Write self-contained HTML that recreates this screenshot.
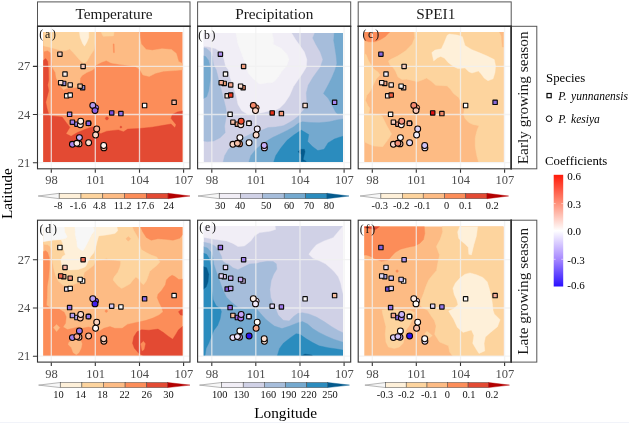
<!DOCTYPE html>
<html><head><meta charset="utf-8"><title>Figure</title><style>
html,body{margin:0;padding:0;background:#fff;}
body{width:629px;height:423px;overflow:hidden;}
svg{display:block;will-change:transform;}
text{font-family:"Liberation Serif",serif;fill:#1a1a1a;}
.st{font-size:15.3px;}
.rs{font-size:15.35px;}
.at{font-size:15.3px;fill:#000;}
.tk{font-size:12.5px;fill:#4d4d4d;}
.pl{font-size:11.8px;letter-spacing:1.8px;fill:#111;}
.cl{font-size:10.4px;fill:#111;}
.lt{font-size:12.8px;fill:#000;}
.li{font-size:11.5px;font-style:italic;fill:#000;word-spacing:1.6px;}
.ll{font-size:11px;fill:#000;}
</style></head><body>
<svg width="629" height="423" viewBox="0 0 629 423">
<rect width="629" height="423" fill="#fff"/>
<rect x="0" y="422" width="629" height="1" fill="#f1f3f9"/>
<defs>
<clipPath id="cp00"><rect x="43.3" y="32" width="139.2" height="130"/></clipPath>
<clipPath id="cp01"><rect x="203.8" y="33" width="139.2" height="129"/></clipPath>
<clipPath id="cp02"><rect x="364.3" y="32" width="139.2" height="130"/></clipPath>
<clipPath id="cp10"><rect x="43.3" y="227" width="139.2" height="129"/></clipPath>
<clipPath id="cp11"><rect x="203.8" y="226" width="139.2" height="130"/></clipPath>
<clipPath id="cp12"><rect x="364.3" y="226.4" width="139.2" height="129.6"/></clipPath>
<linearGradient id="cg" x1="0" y1="0" x2="0" y2="1"><stop offset="0" stop-color="#ff1a0a"/><stop offset="0.25" stop-color="#ff8f78"/><stop offset="0.5" stop-color="#ffffff"/><stop offset="0.75" stop-color="#a98bff"/><stop offset="1" stop-color="#2a10ff"/></linearGradient>
</defs>
<g clip-path="url(#cp00)">
<rect x="42.3" y="30.8" width="141.2" height="132.2" fill="#fc8d59"/>
<path d="M43,31L138.1,31L139.7,36L141.3,43.9L146.1,49.5L152.4,50.3L162,48.7L171.5,49.5L176.3,53.4L178.6,61.4L184,64.2L184,69.7L174.7,70.6L163.5,71.2L155.6,73.3L149.2,76.5L142.9,74.9L139.7,69.3L134.9,66.2L120.6,64.6L111.1,63L106.3,60.6L101.5,62.2L95.4,65.4L95,67.7L92.6,70.1L86.8,72.5L82.1,75.4L80.2,78.2L79.7,84.4L77.3,87.3L73.5,87.8L66.8,88.2L63.5,89.7L61.1,86.8L58.7,82.5L56.3,78.2L55.4,72.5L52.5,67.7L52,62L51,53L47.7,50.6L43,51.5Z" fill="#fdbb84" stroke="#fdbb84" stroke-width="0.4"/>
<path d="M43,31L95,31L95,43.4L94,50L90.7,54.8L86.8,61.5L84,63.4L80.2,60.5L73.5,52.9L69.7,49.1L65.9,50.5L61.1,50.5L51.5,47.7L43,45.7Z" fill="#fdd49e" stroke="#fdd49e" stroke-width="0.4"/>
<path d="M100.7,31.2L114.3,31.2L113.5,35.9L103.1,36.3Z" fill="#fdd49e" stroke="#fdd49e" stroke-width="0.4"/>
<path d="M79.2,31L88.8,31L88.8,37.6L86.8,42.4L84.5,46.2L82.6,43.4L80.2,37.6Z" fill="#fef0d9" stroke="#fef0d9" stroke-width="0.4"/>
<path d="M113.1,43.9L114.1,43.9L114.4,52.6L113.5,52.6Z" fill="#fc8d59" stroke="#fc8d59" stroke-width="0.4"/>
<path d="M43,60.5L45.8,58.6L47.7,61.5L48.5,70L48.7,80L47.7,85L48.7,90.7L45.8,102.2L47.2,108.9L49.2,115.5L52,115.9L62.2,117.1L66,122.2L69.9,127.3L66,133.7L71.1,136.3L77.5,132.4L85.2,129.3L92.8,126.7L95.4,128L100.5,133.7L106.9,131.2L118.3,129.9L123.5,131.8L127.7,129.1L139.1,128.5L151.9,127.2L163.4,125.3L171,124L174.9,127.8L176.1,124.7L171,118.3L172.3,114.5L177.4,111.9L184,110.6L184,164L43,164Z" fill="#e34a33" stroke="#e34a33" stroke-width="0.4"/>
<path d="M108.5,118.4L108,119.5L106.9,120L105.8,119.5L105.3,118.4L105.8,117.3L106.9,116.8L108,117.3Z" fill="#e34a33" stroke="#e34a33" stroke-width="0.4"/>
<path d="M121.9,127.1L121.6,127.8L120.9,128.1L120.2,127.8L119.9,127.1L120.2,126.4L120.9,126.1L121.6,126.4Z" fill="#e34a33" stroke="#e34a33" stroke-width="0.4"/>
</g>
<path d="M51.3,26.8V168.3M95.3,26.8V168.3M139.5,26.8V168.3M183.6,26.8V168.3M38,66.4H189.5M38,114.5H189.5M38,162.7H189.5" stroke="#f0f0f0" stroke-width="1.3" fill="none" opacity="0.8"/>
<rect x="57.7" y="52" width="4.4" height="4.4" rx="0.3" fill="#f9cdbd" stroke="#0a0a0a" stroke-width="1.12"/>
<rect x="80.9" y="64.2" width="4.4" height="4.4" rx="0.3" fill="#f9cdbd" stroke="#0a0a0a" stroke-width="1.12"/>
<rect x="62.8" y="71.9" width="4.4" height="4.4" rx="0.3" fill="#fbeee8" stroke="#0a0a0a" stroke-width="1.12"/>
<rect x="61.5" y="81.2" width="4.4" height="4.4" rx="0.3" fill="#9a8fd8" stroke="#0a0a0a" stroke-width="1.12"/>
<rect x="58.5" y="80.5" width="4.4" height="4.4" rx="0.3" fill="#fbdcd0" stroke="#0a0a0a" stroke-width="1.12"/>
<rect x="68" y="82.7" width="4.4" height="4.4" rx="0.3" fill="#fbe2d4" stroke="#0a0a0a" stroke-width="1.12"/>
<rect x="80.4" y="85.5" width="4.4" height="4.4" rx="0.3" fill="#8a86d8" stroke="#0a0a0a" stroke-width="1.12"/>
<rect x="77.9" y="84" width="4.4" height="4.4" rx="0.3" fill="#f3c4a6" stroke="#0a0a0a" stroke-width="1.12"/>
<rect x="64.5" y="93.6" width="4.4" height="4.4" rx="0.3" fill="#fdf6f2" stroke="#0a0a0a" stroke-width="1.12"/>
<rect x="68" y="92.9" width="4.4" height="4.4" rx="0.3" fill="#fefaf8" stroke="#0a0a0a" stroke-width="1.12"/>
<rect x="67.4" y="112.1" width="4.4" height="4.4" rx="0.3" fill="#a98fec" stroke="#0a0a0a" stroke-width="1.12"/>
<rect x="109.5" y="110.7" width="4.4" height="4.4" rx="0.3" fill="#7a50e0" stroke="#0a0a0a" stroke-width="1.12"/>
<rect x="118.7" y="111.4" width="4.4" height="4.4" rx="0.3" fill="#9070e6" stroke="#0a0a0a" stroke-width="1.12"/>
<rect x="70.2" y="120" width="4.4" height="4.4" rx="0.3" fill="#a080ee" stroke="#0a0a0a" stroke-width="1.12"/>
<rect x="74.7" y="122" width="4.4" height="4.4" rx="0.3" fill="#a488ee" stroke="#0a0a0a" stroke-width="1.12"/>
<circle cx="88.6" cy="123.3" r="3.0" fill="#151515"/>
<rect x="86.2" y="121.1" width="4.4" height="4.4" rx="0.3" fill="#8a64e6" stroke="#0a0a0a" stroke-width="1.12"/>
<rect x="142.4" y="103.3" width="4.4" height="4.4" rx="0.3" fill="#fefaf8" stroke="#0a0a0a" stroke-width="1.12"/>
<rect x="171.9" y="100.1" width="4.4" height="4.4" rx="0.3" fill="#f8b8a0" stroke="#0a0a0a" stroke-width="1.12"/>
<circle cx="95.7" cy="107.8" r="2.95" fill="#9a78ec" stroke="#140800" stroke-width="0.95"/>
<circle cx="92.8" cy="105.4" r="2.95" fill="#b49cf0" stroke="#0c0400" stroke-width="1.05"/>
<circle cx="95" cy="110.6" r="2.95" fill="#8a60e8" stroke="#0c0400" stroke-width="1.05"/>
<circle cx="80.3" cy="124.8" r="2.95" fill="#fbe6da" stroke="#0c0400" stroke-width="1.05"/>
<circle cx="80.7" cy="121.2" r="2.95" fill="#fdf0e8" stroke="#0c0400" stroke-width="1.05"/>
<circle cx="96.7" cy="129" r="2.95" fill="#f8b8a0" stroke="#0c0400" stroke-width="1.05"/>
<circle cx="95.6" cy="135" r="2.95" fill="#fcd8c8" stroke="#0c0400" stroke-width="1.05"/>
<circle cx="79.4" cy="137.6" r="2.95" fill="#c4b4f8" stroke="#0c0400" stroke-width="1.05"/>
<circle cx="72.4" cy="144.3" r="2.95" fill="#a888f0" stroke="#0c0400" stroke-width="1.05"/>
<circle cx="79" cy="143.9" r="2.95" fill="#f9d2c0" stroke="#0c0400" stroke-width="1.05"/>
<circle cx="76.9" cy="143.3" r="2.95" fill="#fdeee6" stroke="#0c0400" stroke-width="1.05"/>
<circle cx="88.6" cy="142.7" r="2.95" fill="#fde0d4" stroke="#0c0400" stroke-width="1.05"/>
<circle cx="103.9" cy="147.9" r="2.95" fill="#f6b49c" stroke="#0c0400" stroke-width="1.05"/>
<circle cx="103.7" cy="145.5" r="2.95" fill="#fef4f0" stroke="#0c0400" stroke-width="1.05"/>
<rect x="37.5" y="26.3" width="152.5" height="142.5" fill="none" stroke="#333" stroke-width="1.1"/>
<text x="39.2" y="37.5" class="pl">(a)</text>
<path d="M51.3,169.2v3.6M95.3,169.2v3.6M139.5,169.2v3.6M183.6,169.2v3.6M37.1,66.4h-4.2M37.1,114.5h-4.2M37.1,162.7h-4.2" stroke="#333" stroke-width="1.1" fill="none"/>
<text x="51.5" y="184.1" class="tk" text-anchor="middle">98</text>
<text x="95.5" y="184.1" class="tk" text-anchor="middle">101</text>
<text x="139.7" y="184.1" class="tk" text-anchor="middle">104</text>
<text x="183.8" y="184.1" class="tk" text-anchor="middle">107</text>
<text x="30.3" y="70.4" class="tk" text-anchor="end">27</text>
<text x="30.3" y="118.5" class="tk" text-anchor="end">24</text>
<text x="30.3" y="166.7" class="tk" text-anchor="end">21</text>
<g clip-path="url(#cp01)">
<rect x="202.8" y="30.8" width="141.2" height="132.2" fill="#d0d1e6"/>
<path d="M203,32L203,46.1L209.5,47.1L215.3,48.5L221.9,52.8L224.3,60.4L225.5,66L228.4,70L229.7,76.4L232.9,85.3L236.1,95.5L238,104.4L241.8,110.8L248.2,114.7L254.6,114L262.2,112.7L269.9,110.8L274.4,110.8L279.5,108.3L284.6,103.2L289.7,95.5L293.5,86.6L298,80L302.4,73.7L306.3,67.3L306.9,59.6L304.4,52L299.9,45.6L295.4,39.2L291,32Z" fill="#f1eef6" stroke="#f1eef6" stroke-width="0.4"/>
<path d="M235.8,32L237.8,43.3L241.6,53.5L245.4,63.7L248.2,73L254.6,80.2L259.7,84L267.3,82.8L271.8,82.8L275.7,80.2L279.5,75.1L282,71.1L286.5,66L289.1,59.6L287.1,54.5L280.8,48.1L273.1,44.3L273.7,40.5L271.8,32Z" fill="#f7f7f7" stroke="#f7f7f7" stroke-width="0.4"/>
<path d="M203,47.6L206.7,48.5L210.5,51.9L212.4,56.6L213.4,64.3L216.3,70L218.2,77.7L220.1,85.3L222.1,93L224,100.6L225.9,108.3L226.5,113.4L225.9,118.7L224.6,126.3L225.2,132.7L220.1,137.8L213.8,141L207.4,141.6L203,141Z" fill="#a6bddb" stroke="#a6bddb" stroke-width="0.4"/>
<path d="M203,55.7L205.7,56.6L208.6,60.4L210,66.2L210.5,70L210.2,80.2L208.7,90.4L206.7,96.8L203,98.7Z" fill="#74a9cf" stroke="#74a9cf" stroke-width="0.4"/>
<path d="M315.2,32L312.7,37.9L315.8,44.3L320.3,52L322.9,59.6L320.3,67.3L316,73L312.7,77.7L308.2,85.3L306.3,93L306.9,101.9L305,108.3L301,113L298.6,116.1L293.5,119.9L288.4,123.1L283.3,125.7L275.7,127L268,127.6L262.2,130.1L252,133.3L243.1,137.8L235.4,142.9L228.4,149.3L224.6,155.7L222.7,164L345,164L345,32Z" fill="#a6bddb" stroke="#a6bddb" stroke-width="0.4"/>
<path d="M334.3,32L333.7,40.5L335,48.1L336.3,57.1L336.9,63.4L335,70L331.8,77.7L328,85.3L323.5,93.6L328,98.1L331.8,104.4L335.6,112.1L338,114.5L345,114.5L345,32Z" fill="#74a9cf" stroke="#74a9cf" stroke-width="0.4"/>
<path d="M345,118.7L336.9,119.9L329.2,121.8L319,122.7L310.1,122.5L302.4,121.8L298.6,123.1L293.5,126.9L287.1,130.5L281,133.5L272.5,137.5L263.5,142.9L255.9,149.3L250.8,155.7L248.2,164L345,164Z" fill="#74a9cf" stroke="#74a9cf" stroke-width="0.4"/>
<path d="M273.1,164L275.7,155.7L280.8,148L287.1,140.3L293.5,135.2L301.2,130.1L308.8,134.6L307.6,141.6L312.7,146.7L317.8,150.6L324.1,149.3L328,142.9L334.3,139.1L339.5,137.2L345,135.9L345,164Z" fill="#2b8cbe" stroke="#2b8cbe" stroke-width="0.4"/>
<path d="M300.5,149.3L304.4,149.3L305,151.8L303.1,159.5L306.3,161.4L301.2,161.4L301.4,154.4L298,151.8Z" fill="#045a8d" stroke="#045a8d" stroke-width="0.4"/>
</g>
<path d="M211.8,26.8V168.3M255.8,26.8V168.3M300,26.8V168.3M344.1,26.8V168.3M198.1,66.4H350.2M198.1,114.5H350.2M198.1,162.7H350.2" stroke="#f0f0f0" stroke-width="1.3" fill="none" opacity="0.8"/>
<rect x="218.2" y="52" width="4.4" height="4.4" rx="0.3" fill="#b090f0" stroke="#0a0a0a" stroke-width="1.12"/>
<rect x="241.4" y="64.2" width="4.4" height="4.4" rx="0.3" fill="#f5a080" stroke="#0a0a0a" stroke-width="1.12"/>
<rect x="223.3" y="71.9" width="4.4" height="4.4" rx="0.3" fill="#fdf8f4" stroke="#0a0a0a" stroke-width="1.12"/>
<rect x="222" y="81.2" width="4.4" height="4.4" rx="0.3" fill="#f0a078" stroke="#0a0a0a" stroke-width="1.12"/>
<rect x="219" y="80.5" width="4.4" height="4.4" rx="0.3" fill="#f8b098" stroke="#0a0a0a" stroke-width="1.12"/>
<rect x="228.5" y="82.7" width="4.4" height="4.4" rx="0.3" fill="#f8a890" stroke="#0a0a0a" stroke-width="1.12"/>
<rect x="240.9" y="85.5" width="4.4" height="4.4" rx="0.3" fill="#e08868" stroke="#0a0a0a" stroke-width="1.12"/>
<rect x="238.4" y="84" width="4.4" height="4.4" rx="0.3" fill="#fce0d4" stroke="#0a0a0a" stroke-width="1.12"/>
<rect x="225" y="93.6" width="4.4" height="4.4" rx="0.3" fill="#fde8dc" stroke="#0a0a0a" stroke-width="1.12"/>
<rect x="228.5" y="92.9" width="4.4" height="4.4" rx="0.3" fill="#f03820" stroke="#0a0a0a" stroke-width="1.12"/>
<rect x="227.9" y="112.1" width="4.4" height="4.4" rx="0.3" fill="#fefaf6" stroke="#0a0a0a" stroke-width="1.12"/>
<rect x="270" y="110.7" width="4.4" height="4.4" rx="0.3" fill="#e83018" stroke="#0a0a0a" stroke-width="1.12"/>
<rect x="279.2" y="111.4" width="4.4" height="4.4" rx="0.3" fill="#f59878" stroke="#0a0a0a" stroke-width="1.12"/>
<rect x="230.7" y="120" width="4.4" height="4.4" rx="0.3" fill="#f9c0a8" stroke="#0a0a0a" stroke-width="1.12"/>
<rect x="235.2" y="122" width="4.4" height="4.4" rx="0.3" fill="#f4a888" stroke="#0a0a0a" stroke-width="1.12"/>
<circle cx="249.1" cy="123.3" r="3.0" fill="#151515"/>
<rect x="246.7" y="121.1" width="4.4" height="4.4" rx="0.3" fill="#fdeee6" stroke="#0a0a0a" stroke-width="1.12"/>
<rect x="302.9" y="103.3" width="4.4" height="4.4" rx="0.3" fill="#fde0d0" stroke="#0a0a0a" stroke-width="1.12"/>
<rect x="332.4" y="100.1" width="4.4" height="4.4" rx="0.3" fill="#a888f0" stroke="#0a0a0a" stroke-width="1.12"/>
<circle cx="256.2" cy="107.8" r="2.95" fill="#f0a080" stroke="#140800" stroke-width="0.95"/>
<circle cx="253.3" cy="105.4" r="2.95" fill="#f58a6a" stroke="#0c0400" stroke-width="1.05"/>
<circle cx="255.5" cy="110.6" r="2.95" fill="#fcd8c8" stroke="#0c0400" stroke-width="1.05"/>
<circle cx="240.8" cy="124.8" r="2.95" fill="#fce4d8" stroke="#0c0400" stroke-width="1.05"/>
<circle cx="241.2" cy="121.2" r="2.95" fill="#f05030" stroke="#0c0400" stroke-width="1.05"/>
<circle cx="257.2" cy="129" r="2.95" fill="#f0ecfa" stroke="#0c0400" stroke-width="1.05"/>
<circle cx="256.1" cy="135" r="2.95" fill="#fcdccc" stroke="#0c0400" stroke-width="1.05"/>
<circle cx="239.9" cy="137.6" r="2.95" fill="#faf6fa" stroke="#0c0400" stroke-width="1.05"/>
<circle cx="232.9" cy="144.3" r="2.95" fill="#fbd8c8" stroke="#0c0400" stroke-width="1.05"/>
<circle cx="239.5" cy="143.9" r="2.95" fill="#f09878" stroke="#0c0400" stroke-width="1.05"/>
<circle cx="237.4" cy="143.3" r="2.95" fill="#f8c0a8" stroke="#0c0400" stroke-width="1.05"/>
<circle cx="249.1" cy="142.7" r="2.95" fill="#fdf6f2" stroke="#0c0400" stroke-width="1.05"/>
<circle cx="264.4" cy="147.9" r="2.95" fill="#e0d4f8" stroke="#0c0400" stroke-width="1.05"/>
<circle cx="264.2" cy="145.5" r="2.95" fill="#c8b0f8" stroke="#0c0400" stroke-width="1.05"/>
<rect x="197.6" y="26.3" width="153.1" height="142.5" fill="none" stroke="#333" stroke-width="1.1"/>
<text x="198.2" y="38.5" class="pl">(b)</text>
<path d="M211.8,169.2v3.6M255.8,169.2v3.6M300,169.2v3.6M344.1,169.2v3.6" stroke="#333" stroke-width="1.1" fill="none"/>
<text x="212" y="184.1" class="tk" text-anchor="middle">98</text>
<text x="256" y="184.1" class="tk" text-anchor="middle">101</text>
<text x="300.2" y="184.1" class="tk" text-anchor="middle">104</text>
<text x="344.3" y="184.1" class="tk" text-anchor="middle">107</text>
<g clip-path="url(#cp02)">
<rect x="363.3" y="30.8" width="141.2" height="132.2" fill="#fdbb84"/>
<path d="M414,32L414.6,37.9L412,44.3L405.7,50.7L398,55.8L390.3,59.6L388.4,60.9L389.7,64.7L392.9,67.3L395.4,71.1L398,77L401.8,79.5L406.5,79.2L412,80.4L417.5,81.7L422.8,79.8L426.5,78L431,81L435.7,85.3L447.1,85.9L450.3,89.1L453.5,93.6L458.6,97.4L461.8,103.2L464.4,108.3L463.5,114.7L465,118.5L468.8,122.5L472.7,124.4L479,125.7L477.1,130.1L475.2,137.8L475.2,146.7L476.5,154.4L479,164L505,164L505,32Z" fill="#fdd49e" stroke="#fdd49e" stroke-width="0.4"/>
<path d="M499.5,32L505,32L505,47L502.3,47L501.4,36Z" fill="#fdbb84" stroke="#fdbb84" stroke-width="0.4"/>
<path d="M363,53.2L366.1,54.5L368.7,60.9L373.8,69L378,72L380.1,75.1L376.3,78.9L372.5,86.6L369.9,91.7L366.7,95.5L365.5,100.6L368,105.7L369.9,108.3L368.7,113.4L377.6,114.6L382.1,116.1L386.5,125L391.6,134L388.4,139.1L382.7,146.7L373.8,146.1L367.4,143.5L363,141Z" fill="#fdd49e" stroke="#fdd49e" stroke-width="0.4"/>
<path d="M431.8,52.6L435,50.1L441.4,48.8L444.6,41.8L447.1,35.4L449.1,34.1L457.3,35.1L462.4,36.7L465,45.6L471.4,49.4L479,52.6L486.7,55.8L494.3,59.6L495.6,66L495,72.4L493.1,78.8L488,80.7L484.1,78.1L481,73.7L478.4,71.1L472,73L468.8,71.7L465,67.9L458,68.6L453.5,66.6L448.4,62.8L444.6,58.3L440.8,56.4L437.6,57.7L433.7,60.9Z" fill="#fef0d9" stroke="#fef0d9" stroke-width="0.4"/>
<path d="M363,32L389.7,32L385.2,36.7L380.1,39.8L375,41.8L368.7,41.8L363,39.8Z" fill="#fc8d59" stroke="#fc8d59" stroke-width="0.4"/>
</g>
<path d="M372.3,26.8V168.3M416.3,26.8V168.3M460.5,26.8V168.3M504.6,26.8V168.3M358.7,66.4H510.7M358.7,114.5H510.7M358.7,162.7H510.7" stroke="#f0f0f0" stroke-width="1.3" fill="none" opacity="0.8"/>
<rect x="378.7" y="52" width="4.4" height="4.4" rx="0.3" fill="#8868e0" stroke="#0a0a0a" stroke-width="1.12"/>
<rect x="401.9" y="64.2" width="4.4" height="4.4" rx="0.3" fill="#f8d0c0" stroke="#0a0a0a" stroke-width="1.12"/>
<rect x="383.8" y="71.9" width="4.4" height="4.4" rx="0.3" fill="#f4f0fa" stroke="#0a0a0a" stroke-width="1.12"/>
<rect x="382.5" y="81.2" width="4.4" height="4.4" rx="0.3" fill="#f0a080" stroke="#0a0a0a" stroke-width="1.12"/>
<rect x="379.5" y="80.5" width="4.4" height="4.4" rx="0.3" fill="#fde8e0" stroke="#0a0a0a" stroke-width="1.12"/>
<rect x="389" y="82.7" width="4.4" height="4.4" rx="0.3" fill="#fde4da" stroke="#0a0a0a" stroke-width="1.12"/>
<rect x="401.4" y="85.5" width="4.4" height="4.4" rx="0.3" fill="#f8c8b8" stroke="#0a0a0a" stroke-width="1.12"/>
<rect x="398.9" y="84" width="4.4" height="4.4" rx="0.3" fill="#f8f4f4" stroke="#0a0a0a" stroke-width="1.12"/>
<rect x="385.5" y="93.6" width="4.4" height="4.4" rx="0.3" fill="#fdeee8" stroke="#0a0a0a" stroke-width="1.12"/>
<rect x="389" y="92.9" width="4.4" height="4.4" rx="0.3" fill="#f06040" stroke="#0a0a0a" stroke-width="1.12"/>
<rect x="388.4" y="112.1" width="4.4" height="4.4" rx="0.3" fill="#fdf8f4" stroke="#0a0a0a" stroke-width="1.12"/>
<rect x="430.5" y="110.7" width="4.4" height="4.4" rx="0.3" fill="#e01010" stroke="#0a0a0a" stroke-width="1.12"/>
<rect x="439.7" y="111.4" width="4.4" height="4.4" rx="0.3" fill="#f08868" stroke="#0a0a0a" stroke-width="1.12"/>
<rect x="391.2" y="120" width="4.4" height="4.4" rx="0.3" fill="#fbd0c0" stroke="#0a0a0a" stroke-width="1.12"/>
<rect x="395.7" y="122" width="4.4" height="4.4" rx="0.3" fill="#f4a088" stroke="#0a0a0a" stroke-width="1.12"/>
<circle cx="409.6" cy="123.3" r="3.0" fill="#151515"/>
<rect x="407.2" y="121.1" width="4.4" height="4.4" rx="0.3" fill="#f8b098" stroke="#0a0a0a" stroke-width="1.12"/>
<rect x="463.4" y="103.3" width="4.4" height="4.4" rx="0.3" fill="#fefcfa" stroke="#0a0a0a" stroke-width="1.12"/>
<rect x="492.9" y="100.1" width="4.4" height="4.4" rx="0.3" fill="#8868d8" stroke="#0a0a0a" stroke-width="1.12"/>
<circle cx="416.7" cy="107.8" r="2.95" fill="#f0a080" stroke="#140800" stroke-width="0.95"/>
<circle cx="413.8" cy="105.4" r="2.95" fill="#f58a70" stroke="#0c0400" stroke-width="1.05"/>
<circle cx="416" cy="110.6" r="2.95" fill="#fac8b8" stroke="#0c0400" stroke-width="1.05"/>
<circle cx="401.3" cy="124.8" r="2.95" fill="#fdf6f2" stroke="#0c0400" stroke-width="1.05"/>
<circle cx="401.7" cy="121.2" r="2.95" fill="#f59880" stroke="#0c0400" stroke-width="1.05"/>
<circle cx="417.7" cy="129" r="2.95" fill="#dcd4f8" stroke="#0c0400" stroke-width="1.05"/>
<circle cx="416.6" cy="135" r="2.95" fill="#f4f0fc" stroke="#0c0400" stroke-width="1.05"/>
<circle cx="400.4" cy="137.6" r="2.95" fill="#fdfafa" stroke="#0c0400" stroke-width="1.05"/>
<circle cx="393.4" cy="144.3" r="2.95" fill="#fbd8cc" stroke="#0c0400" stroke-width="1.05"/>
<circle cx="400" cy="143.9" r="2.95" fill="#f9c8b0" stroke="#0c0400" stroke-width="1.05"/>
<circle cx="397.9" cy="143.3" r="2.95" fill="#f59078" stroke="#0c0400" stroke-width="1.05"/>
<circle cx="409.6" cy="142.7" r="2.95" fill="#e4dcfa" stroke="#0c0400" stroke-width="1.05"/>
<circle cx="424.9" cy="147.9" r="2.95" fill="#eeeafc" stroke="#0c0400" stroke-width="1.05"/>
<circle cx="424.7" cy="145.5" r="2.95" fill="#d0c4f8" stroke="#0c0400" stroke-width="1.05"/>
<rect x="358.2" y="26.3" width="153" height="142.5" fill="none" stroke="#333" stroke-width="1.1"/>
<text x="362.4" y="37.9" class="pl">(c)</text>
<path d="M372.3,169.2v3.6M416.3,169.2v3.6M460.5,169.2v3.6M504.6,169.2v3.6" stroke="#333" stroke-width="1.1" fill="none"/>
<text x="372.5" y="184.1" class="tk" text-anchor="middle">98</text>
<text x="416.5" y="184.1" class="tk" text-anchor="middle">101</text>
<text x="460.7" y="184.1" class="tk" text-anchor="middle">104</text>
<text x="504.8" y="184.1" class="tk" text-anchor="middle">107</text>
<g clip-path="url(#cp10)">
<rect x="42.3" y="224.7" width="141.2" height="132.2" fill="#fdbb84"/>
<path d="M140.1,225.9L183.5,225.9L183.5,233.5L179.7,238.3L173,240.2L165.4,239.3L157.8,238.8L151.1,240.2L146.3,237.4L142.5,231.6Z" fill="#fc8d59" stroke="#fc8d59" stroke-width="0.4"/>
<path d="M43,251.7L45.8,250.7L47.7,252.6L49.2,257.4L49.6,262L49.4,267.5L48.7,277.1L47.2,286.6L47,297.7L46.4,305.3L51.5,308.5L59.1,309.1L64.2,312.3L66.2,316.8L65.5,323.2L63,327L67.4,329.6L73.2,328.3L78.3,327L82.1,328.3L88.5,327L93.6,328.3L96.1,332.1L100,330.8L103.8,328.3L110,326.6L114.7,328.3L122.3,328.3L127.4,324.4L136.3,322.5L145.3,320.6L152.9,318.1L159.3,314.9L163.1,311.7L161.9,307.9L159.3,302.8L157.2,297.7L158,294.3L161.6,290.4L165.4,284.7L166.4,279.9L169.2,277.1L172.1,275.2L174.9,276.6L178.8,279.5L184,279L184,357L43,357Z" fill="#fc8d59" stroke="#fc8d59" stroke-width="0.4"/>
<path d="M107.6,311.1L107.2,312L106.3,312.4L105.4,312L105,311.1L105.4,310.2L106.3,309.8L107.2,310.2Z" fill="#fc8d59" stroke="#fc8d59" stroke-width="0.4"/>
<path d="M53.4,327.6L56.6,324.4L59.8,327.6L56.6,331.5Z" fill="#fdbb84" stroke="#fdbb84" stroke-width="0.4"/>
<path d="M68.7,342.5L71.9,340L80.8,340.6L82.1,343.8L81.1,348.3L78.9,352.7L76.4,354.7L73.2,352.7L71.3,347.6L68.3,344.7Z" fill="#fdbb84" stroke="#fdbb84" stroke-width="0.4"/>
<path d="M132.5,343.2L133.8,336.8L137,331.7L141.5,329.8L149.1,330.2L158,329.1L163.1,332.3L168.2,336.2L172.7,339.3L175.9,334.2L178.5,329.8L184,325.3L184,357L145.3,357L138.9,353.4L134.4,348.3Z" fill="#e34a33" stroke="#e34a33" stroke-width="0.4"/>
<path d="M178.5,311.7L181,309.8L184,309.8L184,315.5L180.4,314.9Z" fill="#e34a33" stroke="#e34a33" stroke-width="0.4"/>
<path d="M140.8,343.8L143.4,341.3L145.3,343.8L144,349.6L142.1,350.8Z" fill="#fc8d59" stroke="#fc8d59" stroke-width="0.4"/>
<path d="M43,226L132,226L133.9,230.7L136.8,235.5L139.2,240.2L140.1,245.9L141.5,249.8L146.3,252.6L151.1,255L156.8,256.9L158.7,260.3L160.1,261.8L156.8,265.6L153,268.5L149.7,271.4L148.2,276.1L146.3,280.9L143.5,284.7L141.1,282.8L138.7,279L135.9,277.1L133,280L130.2,283.8L125.4,286.6L121.6,288.5L117.8,285.7L113,280L114,277.1L117.8,272.3L119.7,267.5L120.6,263.7L120.6,261L115.9,260.3L109.2,259.5L106.3,258.5L103.5,259.5L95.6,260.5L93.5,265.6L89.7,268.5L84.5,272.3L83,277.1L80.2,281.9L74.4,284.2L68.7,286.1L63,285.2L58.2,280.9L55.4,275.2L53.5,267.5L52.5,262L52,256.9L51.5,250.2L50.1,246.4L47.7,244.8L43,244.2Z" fill="#fdd49e" stroke="#fdd49e" stroke-width="0.4"/>
<path d="M130.7,238.8L128.3,241.2L125.9,238.8L128.3,236.4Z" fill="#fdbb84" stroke="#fdbb84" stroke-width="0.4"/>
<path d="M43,226L116.8,226L117.8,230.7L114.9,233.5L106.3,235L98.7,235.9L97.2,241.2L95.6,247.9L93.7,253L90.7,256.4L87.8,262L86,266L84,267.5L78.3,269.5L70.6,269.9L64.9,269.5L62,266.6L60.8,260L62.5,256.4L65.4,254.5L64.9,253.6L63.5,248.8L62.5,243.1L61.1,239.7L53.5,240.2L47.7,241L43,241.5Z" fill="#fef0d9" stroke="#fef0d9" stroke-width="0.4"/>
<path d="M42.5,225.9L63.9,225.9L64.9,232.6L67.3,236.9L65.9,238.3L61.1,239.3L53.5,239.7L47.7,240.7L42.5,241.7Z" fill="#f7f7f7" stroke="#f7f7f7" stroke-width="0.4"/>
<path d="M74.9,225.9L92.6,225.9L94.5,230.7L91.6,234.5L88.8,240.2L85.9,245.9L83,250.7L79.7,249.3L77.3,246.9L76.8,241.2L75.4,235.5Z" fill="#f7f7f7" stroke="#f7f7f7" stroke-width="0.4"/>
</g>
<path d="M51.3,220.7V361.6M95.3,220.7V361.6M139.5,220.7V361.6M183.6,220.7V361.6M38,259.7H189.5M38,308H189.5M38,356.2H189.5" stroke="#f0f0f0" stroke-width="1.3" fill="none" opacity="0.8"/>
<rect x="57.7" y="245.3" width="4.4" height="4.4" rx="0.3" fill="#fefcfa" stroke="#0a0a0a" stroke-width="1.12"/>
<rect x="80.9" y="257.5" width="4.4" height="4.4" rx="0.3" fill="#f26a50" stroke="#0a0a0a" stroke-width="1.12"/>
<rect x="62.8" y="265.2" width="4.4" height="4.4" rx="0.3" fill="#f8b8a8" stroke="#0a0a0a" stroke-width="1.12"/>
<rect x="61.5" y="274.5" width="4.4" height="4.4" rx="0.3" fill="#d8a080" stroke="#0a0a0a" stroke-width="1.12"/>
<rect x="58.5" y="273.8" width="4.4" height="4.4" rx="0.3" fill="#f26a50" stroke="#0a0a0a" stroke-width="1.12"/>
<rect x="68" y="276" width="4.4" height="4.4" rx="0.3" fill="#f59880" stroke="#0a0a0a" stroke-width="1.12"/>
<rect x="80.4" y="278.8" width="4.4" height="4.4" rx="0.3" fill="#fefefe" stroke="#0a0a0a" stroke-width="1.12"/>
<rect x="77.9" y="277.3" width="4.4" height="4.4" rx="0.3" fill="#fcf8f6" stroke="#0a0a0a" stroke-width="1.12"/>
<rect x="64.5" y="286.9" width="4.4" height="4.4" rx="0.3" fill="#ece8fa" stroke="#0a0a0a" stroke-width="1.12"/>
<rect x="68" y="286.2" width="4.4" height="4.4" rx="0.3" fill="#fffdfd" stroke="#0a0a0a" stroke-width="1.12"/>
<rect x="67.4" y="305.4" width="4.4" height="4.4" rx="0.3" fill="#9070e8" stroke="#0a0a0a" stroke-width="1.12"/>
<rect x="109.5" y="304" width="4.4" height="4.4" rx="0.3" fill="#d8ccf8" stroke="#0a0a0a" stroke-width="1.12"/>
<rect x="118.7" y="304.7" width="4.4" height="4.4" rx="0.3" fill="#fdfafa" stroke="#0a0a0a" stroke-width="1.12"/>
<rect x="70.2" y="313.3" width="4.4" height="4.4" rx="0.3" fill="#b8a0f4" stroke="#0a0a0a" stroke-width="1.12"/>
<rect x="74.7" y="315.3" width="4.4" height="4.4" rx="0.3" fill="#c8b8f8" stroke="#0a0a0a" stroke-width="1.12"/>
<circle cx="88.6" cy="316.6" r="3.0" fill="#151515"/>
<rect x="86.2" y="314.4" width="4.4" height="4.4" rx="0.3" fill="#9878ec" stroke="#0a0a0a" stroke-width="1.12"/>
<rect x="142.4" y="296.6" width="4.4" height="4.4" rx="0.3" fill="#9070e8" stroke="#0a0a0a" stroke-width="1.12"/>
<rect x="171.9" y="293.4" width="4.4" height="4.4" rx="0.3" fill="#fefafa" stroke="#0a0a0a" stroke-width="1.12"/>
<circle cx="95.7" cy="301.1" r="2.95" fill="#6a48e8" stroke="#140800" stroke-width="0.95"/>
<circle cx="92.8" cy="298.7" r="2.95" fill="#b8a0f4" stroke="#0c0400" stroke-width="1.05"/>
<circle cx="95" cy="303.9" r="2.95" fill="#4020f0" stroke="#0c0400" stroke-width="1.05"/>
<circle cx="80.3" cy="318.1" r="2.95" fill="#f8c0a8" stroke="#0c0400" stroke-width="1.05"/>
<circle cx="80.7" cy="314.5" r="2.95" fill="#fcdccc" stroke="#0c0400" stroke-width="1.05"/>
<circle cx="96.7" cy="322.3" r="2.95" fill="#fbd4c0" stroke="#0c0400" stroke-width="1.05"/>
<circle cx="95.6" cy="328.3" r="2.95" fill="#fefafa" stroke="#0c0400" stroke-width="1.05"/>
<circle cx="79.4" cy="330.9" r="2.95" fill="#9878f0" stroke="#0c0400" stroke-width="1.05"/>
<circle cx="72.4" cy="337.6" r="2.95" fill="#a080f0" stroke="#0c0400" stroke-width="1.05"/>
<circle cx="79" cy="337.2" r="2.95" fill="#f9c8b0" stroke="#0c0400" stroke-width="1.05"/>
<circle cx="76.9" cy="336.6" r="2.95" fill="#f8a890" stroke="#0c0400" stroke-width="1.05"/>
<circle cx="88.6" cy="336" r="2.95" fill="#f9c0a8" stroke="#0c0400" stroke-width="1.05"/>
<circle cx="103.9" cy="341.2" r="2.95" fill="#f8c4b0" stroke="#0c0400" stroke-width="1.05"/>
<circle cx="103.7" cy="338.8" r="2.95" fill="#fbd0bc" stroke="#0c0400" stroke-width="1.05"/>
<rect x="37.5" y="220.2" width="152.5" height="141.9" fill="none" stroke="#333" stroke-width="1.1"/>
<text x="39.6" y="232.5" class="pl">(d)</text>
<path d="M51.3,362.5v3.6M95.3,362.5v3.6M139.5,362.5v3.6M183.6,362.5v3.6M37.1,259.7h-4.2M37.1,308h-4.2M37.1,356.2h-4.2" stroke="#333" stroke-width="1.1" fill="none"/>
<text x="51.5" y="377.7" class="tk" text-anchor="middle">98</text>
<text x="95.5" y="377.7" class="tk" text-anchor="middle">101</text>
<text x="139.7" y="377.7" class="tk" text-anchor="middle">104</text>
<text x="183.8" y="377.7" class="tk" text-anchor="middle">107</text>
<text x="30.3" y="263.7" class="tk" text-anchor="end">27</text>
<text x="30.3" y="312" class="tk" text-anchor="end">24</text>
<text x="30.3" y="360.2" class="tk" text-anchor="end">21</text>
<g clip-path="url(#cp11)">
<rect x="202.8" y="224.7" width="141.2" height="132.2" fill="#d0d1e6"/>
<path d="M202.3,224.9L275,224.9L275.6,229.4L269.9,231.3L259.7,232.6L254.6,235.8L250.8,240.9L244.4,246L238,246.6L232.9,243.4L226.5,240.9L216.3,239.6L208.7,238.3L202.3,237Z" fill="#f1eef6" stroke="#f1eef6" stroke-width="0.4"/>
<path d="M344,225L340.7,228.7L336.9,233.2L333.1,237.7L324.1,240.9L316.5,244.7L312,249.8L308.8,254.3L312.7,258.1L319,260.6L325.4,263.8L331,268.5L334.5,272L338.3,276.8L340.7,283.1L342,289.5L344,297.2Z" fill="#f1eef6" stroke="#f1eef6" stroke-width="0.4"/>
<path d="M203,242.1L209.9,243.4L215,246L218.9,251.1L221.4,256.2L222.7,261.3L226.5,263.8L228.4,264L232.9,267.8L238,269.7L244.4,266.6L249.5,264L256.5,263.5L259.7,262.6L267.3,261.3L273.1,261.5L276.3,263.8L276.9,269.1L273.7,274.2L271.2,280.6L269.9,289.5L270.6,297.2L273.1,303.6L275.7,308.7L278.2,315L283.3,320.3L289.1,320.9L293.5,316.5L298,313.3L302.4,312.7L308.8,313.9L316.5,317.1L324.1,321.6L331.8,326.7L338.2,330.5L344,333.1L344,357L203,357Z" fill="#a6bddb" stroke="#a6bddb" stroke-width="0.4"/>
<path d="M203,246.6L207.4,247.9L211.2,252.3L213.1,258.7L213.8,264L216.3,271.7L219.5,280.6L222.7,289.5L226.5,297.2L231.6,302.3L238,307.4L244.4,308.7L252,308L256.5,308.7L261,314L266,319.5L271,323.5L274.4,326.1L282,328.6L289.7,326.1L297.3,322.9L302.4,321.6L307.6,324.1L312.7,328.6L319,332.4L326.7,336.3L334.3,339.4L344,342.6L344,357L203,357Z" fill="#74a9cf" stroke="#74a9cf" stroke-width="0.4"/>
<path d="M203,253L206.7,254.3L209.3,258.7L210.6,266.4L211.2,276.8L211.8,289.5L213.1,299.7L216.3,306.1L220.1,308L221.4,311.4L220.1,319L217.6,325.4L213.8,330.5L211.2,336.9L208.7,343.3L206.1,348.4L204.8,357L203,357Z" fill="#2b8cbe" stroke="#2b8cbe" stroke-width="0.4"/>
<path d="M276.9,357L279.5,348.4L283.3,343.3L289.7,338.2L296.1,333.7L299.9,334.3L306.3,338.8L312.7,342.6L319,345.8L328,347.7L336.9,349L344,350.3L344,357Z" fill="#2b8cbe" stroke="#2b8cbe" stroke-width="0.4"/>
<path d="M203,266.6L206.7,267.8L208.7,274.2L208,281.9L206.1,287L203,289.5Z" fill="#045a8d" stroke="#045a8d" stroke-width="0.4"/>
<path d="M301.2,356L305,354.1L311.4,355L312.7,356Z" fill="#045a8d" stroke="#045a8d" stroke-width="0.4"/>
</g>
<path d="M211.8,220.7V361.6M255.8,220.7V361.6M300,220.7V361.6M344.1,220.7V361.6M198.1,259.7H350.2M198.1,308H350.2M198.1,356.2H350.2" stroke="#f0f0f0" stroke-width="1.3" fill="none" opacity="0.8"/>
<rect x="218.2" y="245.3" width="4.4" height="4.4" rx="0.3" fill="#9870e8" stroke="#0a0a0a" stroke-width="1.12"/>
<rect x="241.4" y="257.5" width="4.4" height="4.4" rx="0.3" fill="#a080ec" stroke="#0a0a0a" stroke-width="1.12"/>
<rect x="223.3" y="265.2" width="4.4" height="4.4" rx="0.3" fill="#ecdcfc" stroke="#0a0a0a" stroke-width="1.12"/>
<rect x="222" y="274.5" width="4.4" height="4.4" rx="0.3" fill="#d8c8f0" stroke="#0a0a0a" stroke-width="1.12"/>
<rect x="219" y="273.8" width="4.4" height="4.4" rx="0.3" fill="#e4d4f8" stroke="#0a0a0a" stroke-width="1.12"/>
<rect x="228.5" y="276" width="4.4" height="4.4" rx="0.3" fill="#c8acf4" stroke="#0a0a0a" stroke-width="1.12"/>
<rect x="240.9" y="278.8" width="4.4" height="4.4" rx="0.3" fill="#c0b0d8" stroke="#0a0a0a" stroke-width="1.12"/>
<rect x="238.4" y="277.3" width="4.4" height="4.4" rx="0.3" fill="#c4a8f4" stroke="#0a0a0a" stroke-width="1.12"/>
<rect x="225" y="286.9" width="4.4" height="4.4" rx="0.3" fill="#8858e0" stroke="#0a0a0a" stroke-width="1.12"/>
<rect x="228.5" y="286.2" width="4.4" height="4.4" rx="0.3" fill="#c0a0f4" stroke="#0a0a0a" stroke-width="1.12"/>
<rect x="227.9" y="305.4" width="4.4" height="4.4" rx="0.3" fill="#9468e8" stroke="#0a0a0a" stroke-width="1.12"/>
<rect x="270" y="304" width="4.4" height="4.4" rx="0.3" fill="#e8dcfc" stroke="#0a0a0a" stroke-width="1.12"/>
<rect x="279.2" y="304.7" width="4.4" height="4.4" rx="0.3" fill="#a078ec" stroke="#0a0a0a" stroke-width="1.12"/>
<rect x="230.7" y="313.3" width="4.4" height="4.4" rx="0.3" fill="#f8c0a0" stroke="#0a0a0a" stroke-width="1.12"/>
<rect x="235.2" y="315.3" width="4.4" height="4.4" rx="0.3" fill="#a070ec" stroke="#0a0a0a" stroke-width="1.12"/>
<circle cx="249.1" cy="316.6" r="3.0" fill="#151515"/>
<rect x="246.7" y="314.4" width="4.4" height="4.4" rx="0.3" fill="#f0e8fc" stroke="#0a0a0a" stroke-width="1.12"/>
<rect x="302.9" y="296.6" width="4.4" height="4.4" rx="0.3" fill="#fefcfc" stroke="#0a0a0a" stroke-width="1.12"/>
<rect x="332.4" y="293.4" width="4.4" height="4.4" rx="0.3" fill="#f8c0a0" stroke="#0a0a0a" stroke-width="1.12"/>
<circle cx="256.2" cy="301.1" r="2.95" fill="#e8dcf8" stroke="#140800" stroke-width="0.95"/>
<circle cx="253.3" cy="298.7" r="2.95" fill="#fdf0e8" stroke="#0c0400" stroke-width="1.05"/>
<circle cx="255.5" cy="303.9" r="2.95" fill="#f4ecfc" stroke="#0c0400" stroke-width="1.05"/>
<circle cx="240.8" cy="318.1" r="2.95" fill="#a878f0" stroke="#0c0400" stroke-width="1.05"/>
<circle cx="241.2" cy="314.5" r="2.95" fill="#c4a4f6" stroke="#0c0400" stroke-width="1.05"/>
<circle cx="257.2" cy="322.3" r="2.95" fill="#fefcf8" stroke="#0c0400" stroke-width="1.05"/>
<circle cx="256.1" cy="328.3" r="2.95" fill="#f8a888" stroke="#0c0400" stroke-width="1.05"/>
<circle cx="239.9" cy="330.9" r="2.95" fill="#fefcfc" stroke="#0c0400" stroke-width="1.05"/>
<circle cx="232.9" cy="337.6" r="2.95" fill="#ecdffc" stroke="#0c0400" stroke-width="1.05"/>
<circle cx="239.5" cy="337.2" r="2.95" fill="#c8a8f4" stroke="#0c0400" stroke-width="1.05"/>
<circle cx="237.4" cy="336.6" r="2.95" fill="#f0e6fc" stroke="#0c0400" stroke-width="1.05"/>
<circle cx="249.1" cy="336" r="2.95" fill="#2a10f0" stroke="#0c0400" stroke-width="1.05"/>
<circle cx="264.4" cy="341.2" r="2.95" fill="#fbe8e0" stroke="#0c0400" stroke-width="1.05"/>
<circle cx="264.2" cy="338.8" r="2.95" fill="#fde0d0" stroke="#0c0400" stroke-width="1.05"/>
<rect x="197.6" y="220.2" width="153.1" height="141.9" fill="none" stroke="#333" stroke-width="1.1"/>
<text x="199.2" y="231.2" class="pl">(e)</text>
<path d="M211.8,362.5v3.6M255.8,362.5v3.6M300,362.5v3.6M344.1,362.5v3.6" stroke="#333" stroke-width="1.1" fill="none"/>
<text x="212" y="377.7" class="tk" text-anchor="middle">98</text>
<text x="256" y="377.7" class="tk" text-anchor="middle">101</text>
<text x="300.2" y="377.7" class="tk" text-anchor="middle">104</text>
<text x="344.3" y="377.7" class="tk" text-anchor="middle">107</text>
<g clip-path="url(#cp12)">
<rect x="363.3" y="224.7" width="141.2" height="132.2" fill="#fdbb84"/>
<path d="M442,225L442.7,231.9L440.1,239.6L436.3,246.6L439.5,254.9L437.6,263.8L436.5,270.4L432.8,274.8L428.8,279.8L426.1,285.7L423.5,293.4L421,299.7L420,305L423,308L427.5,310.3L431.5,316.5L434.2,320.3L436.1,326L434.6,334.3L439.5,342L448.4,345.8L449.7,352.2L453.5,357L505,357L505,225Z" fill="#fdd49e" stroke="#fdd49e" stroke-width="0.4"/>
<path d="M382.1,310.1L386.5,309.5L399.3,310.1L410.8,310.7L414.6,312.7L412,320.3L409.5,325.4L405.7,330.5L404.4,338.2L403.1,343.3L399.3,347.1L394.2,348.4L388.4,347.1L385.9,342L385.2,334.3L385.9,326.7L384,319L382.7,313.9Z" fill="#fdd49e" stroke="#fdd49e" stroke-width="0.4"/>
<path d="M424.6,333.7L427,331.3L432.3,335.6L429.4,338Z" fill="#fdd49e" stroke="#fdd49e" stroke-width="0.4"/>
<path d="M458.6,229.4L459.9,225.3L477.8,225.3L476.5,235.8L473.9,244.7L471.4,254.9L468.8,254.3L468.2,247.2L465,244.1L461.2,240.9L458.6,238.3L457.6,231.9Z" fill="#fef0d9" stroke="#fef0d9" stroke-width="0.4"/>
<path d="M452.9,288.2L455.4,283.1L459.9,278L465,274.2L470.1,272.9L476.5,274.8L482.9,277.4L487.3,281.9L489.2,288.2L491.2,295.9L492.4,303.6L493.1,310.5L494.3,313.9L500.1,319.7L497.5,326.7L490.5,332.4L485.4,336.9L484.1,343.3L484.8,350.9L479,353.5L476.5,349.7L472.7,343.3L473.9,335.6L471.4,329.9L463.1,332.4L457.3,327.3L453.5,319L450.3,313.9L448.6,311L453.5,308.7L458,304.8L456.7,299.7L454.2,294.6Z" fill="#fef0d9" stroke="#fef0d9" stroke-width="0.4"/>
<path d="M362.5,225.3L424.2,225.3L424.8,233.2L423.5,239.6L419.7,243.4L414.6,246L408.2,247.2L400.6,249.2L395.4,252.3L391.6,256.2L388.4,260L381.4,261.3L375,258.7L369.9,256.2L366.1,254.9L362.5,255.5Z" fill="#fc8d59" stroke="#fc8d59" stroke-width="0.4"/>
<path d="M362.5,225.3L379.5,225.3L379.5,226.6L375.7,229.4L371.2,228.7L362.5,227.5Z" fill="#e34a33" stroke="#e34a33" stroke-width="0.4"/>
<path d="M398.4,271.1L398,272L397.1,272.4L396.2,272L395.8,271.1L396.2,270.2L397.1,269.8L398,270.2Z" fill="#fc8d59" stroke="#fc8d59" stroke-width="0.4"/>
</g>
<path d="M372.3,220.7V361.6M416.3,220.7V361.6M460.5,220.7V361.6M504.6,220.7V361.6M358.7,259.7H510.7M358.7,308H510.7M358.7,356.2H510.7" stroke="#f0f0f0" stroke-width="1.3" fill="none" opacity="0.8"/>
<rect x="378.7" y="245.3" width="4.4" height="4.4" rx="0.3" fill="#8060e0" stroke="#0a0a0a" stroke-width="1.12"/>
<rect x="401.9" y="257.5" width="4.4" height="4.4" rx="0.3" fill="#b098f0" stroke="#0a0a0a" stroke-width="1.12"/>
<rect x="383.8" y="265.2" width="4.4" height="4.4" rx="0.3" fill="#e8e0fa" stroke="#0a0a0a" stroke-width="1.12"/>
<rect x="382.5" y="274.5" width="4.4" height="4.4" rx="0.3" fill="#a8a0e0" stroke="#0a0a0a" stroke-width="1.12"/>
<rect x="379.5" y="273.8" width="4.4" height="4.4" rx="0.3" fill="#e4dcfa" stroke="#0a0a0a" stroke-width="1.12"/>
<rect x="389" y="276" width="4.4" height="4.4" rx="0.3" fill="#d0c0f8" stroke="#0a0a0a" stroke-width="1.12"/>
<rect x="401.4" y="278.8" width="4.4" height="4.4" rx="0.3" fill="#f8f6fc" stroke="#0a0a0a" stroke-width="1.12"/>
<rect x="398.9" y="277.3" width="4.4" height="4.4" rx="0.3" fill="#d4c8f8" stroke="#0a0a0a" stroke-width="1.12"/>
<rect x="385.5" y="286.9" width="4.4" height="4.4" rx="0.3" fill="#6848d8" stroke="#0a0a0a" stroke-width="1.12"/>
<rect x="389" y="286.2" width="4.4" height="4.4" rx="0.3" fill="#e0d8fa" stroke="#0a0a0a" stroke-width="1.12"/>
<rect x="388.4" y="305.4" width="4.4" height="4.4" rx="0.3" fill="#9070e8" stroke="#0a0a0a" stroke-width="1.12"/>
<rect x="430.5" y="304" width="4.4" height="4.4" rx="0.3" fill="#e4dafa" stroke="#0a0a0a" stroke-width="1.12"/>
<rect x="439.7" y="304.7" width="4.4" height="4.4" rx="0.3" fill="#9878ec" stroke="#0a0a0a" stroke-width="1.12"/>
<rect x="391.2" y="313.3" width="4.4" height="4.4" rx="0.3" fill="#f8a890" stroke="#0a0a0a" stroke-width="1.12"/>
<rect x="395.7" y="315.3" width="4.4" height="4.4" rx="0.3" fill="#9070e8" stroke="#0a0a0a" stroke-width="1.12"/>
<circle cx="409.6" cy="316.6" r="3.0" fill="#151515"/>
<rect x="407.2" y="314.4" width="4.4" height="4.4" rx="0.3" fill="#fdfcfc" stroke="#0a0a0a" stroke-width="1.12"/>
<rect x="463.4" y="296.6" width="4.4" height="4.4" rx="0.3" fill="#fefefe" stroke="#0a0a0a" stroke-width="1.12"/>
<rect x="492.9" y="293.4" width="4.4" height="4.4" rx="0.3" fill="#f8b098" stroke="#0a0a0a" stroke-width="1.12"/>
<circle cx="416.7" cy="301.1" r="2.95" fill="#e8dcf8" stroke="#140800" stroke-width="0.95"/>
<circle cx="413.8" cy="298.7" r="2.95" fill="#fdece4" stroke="#0c0400" stroke-width="1.05"/>
<circle cx="416" cy="303.9" r="2.95" fill="#fefaf8" stroke="#0c0400" stroke-width="1.05"/>
<circle cx="401.3" cy="318.1" r="2.95" fill="#a888f0" stroke="#0c0400" stroke-width="1.05"/>
<circle cx="401.7" cy="314.5" r="2.95" fill="#c8b4f8" stroke="#0c0400" stroke-width="1.05"/>
<circle cx="417.7" cy="322.3" r="2.95" fill="#fefcfc" stroke="#0c0400" stroke-width="1.05"/>
<circle cx="416.6" cy="328.3" r="2.95" fill="#fbc4b0" stroke="#0c0400" stroke-width="1.05"/>
<circle cx="400.4" cy="330.9" r="2.95" fill="#fefcfe" stroke="#0c0400" stroke-width="1.05"/>
<circle cx="393.4" cy="337.6" r="2.95" fill="#dccff8" stroke="#0c0400" stroke-width="1.05"/>
<circle cx="400" cy="337.2" r="2.95" fill="#c0a8f4" stroke="#0c0400" stroke-width="1.05"/>
<circle cx="397.9" cy="336.6" r="2.95" fill="#d0c0f8" stroke="#0c0400" stroke-width="1.05"/>
<circle cx="409.6" cy="336" r="2.95" fill="#2810f0" stroke="#0c0400" stroke-width="1.05"/>
<circle cx="424.9" cy="341.2" r="2.95" fill="#e8e0fc" stroke="#0c0400" stroke-width="1.05"/>
<circle cx="424.7" cy="338.8" r="2.95" fill="#fefefe" stroke="#0c0400" stroke-width="1.05"/>
<rect x="358.2" y="220.2" width="153" height="141.9" fill="none" stroke="#333" stroke-width="1.1"/>
<text x="359.7" y="232.5" class="pl">(f)</text>
<path d="M372.3,362.5v3.6M416.3,362.5v3.6M460.5,362.5v3.6M504.6,362.5v3.6" stroke="#333" stroke-width="1.1" fill="none"/>
<text x="372.5" y="377.7" class="tk" text-anchor="middle">98</text>
<text x="416.5" y="377.7" class="tk" text-anchor="middle">101</text>
<text x="460.7" y="377.7" class="tk" text-anchor="middle">104</text>
<text x="504.8" y="377.7" class="tk" text-anchor="middle">107</text>
<rect x="37.5" y="1.9" width="152.5" height="24.4" fill="#fff" stroke="#555" stroke-width="1"/>
<path d="M37,26.3H190.6" stroke="#2e2e2e" stroke-width="1.5"/>
<text x="114" y="18.9" class="st" text-anchor="middle">Temperature</text>
<rect x="197.6" y="1.9" width="153.1" height="24.4" fill="#fff" stroke="#555" stroke-width="1"/>
<path d="M197,26.3H351.2" stroke="#2e2e2e" stroke-width="1.5"/>
<text x="274.3" y="18.9" class="st" text-anchor="middle">Precipitation</text>
<rect x="358.2" y="1.9" width="153" height="24.4" fill="#fff" stroke="#555" stroke-width="1"/>
<path d="M357.6,26.3H511.8" stroke="#2e2e2e" stroke-width="1.5"/>
<text x="435.8" y="18.9" class="st" text-anchor="middle">SPEI1</text>
<rect x="511.2" y="26.3" width="25.6" height="142.5" fill="#fff" stroke="#555" stroke-width="1"/>
<path d="M511.2,25.8V169.4" stroke="#2e2e2e" stroke-width="1.5"/>
<text transform="translate(528.2,97.8) rotate(-90)" class="rs" text-anchor="middle">Early growing season</text>
<rect x="511.2" y="220.2" width="25.6" height="141.9" fill="#fff" stroke="#555" stroke-width="1"/>
<path d="M511.2,219.6V362.7" stroke="#2e2e2e" stroke-width="1.5"/>
<text transform="translate(528.2,291.3) rotate(-90)" class="rs" text-anchor="middle">Late growing season</text>
<text transform="translate(12.3,193.6) rotate(-90)" class="at" text-anchor="middle">Latitude</text>
<text x="285.6" y="417.7" class="at" text-anchor="middle">Longitude</text>
<path d="M38.2,196L59.2,193.3V198.7Z" fill="#f7f7f7" stroke="#888" stroke-width="0.6"/>
<rect x="59.2" y="193.3" width="21.8" height="5.4" fill="#fef0d9" stroke="#444" stroke-width="0.5"/>
<rect x="81" y="193.3" width="21.8" height="5.4" fill="#fdd49e" stroke="#444" stroke-width="0.5"/>
<rect x="102.8" y="193.3" width="21.7" height="5.4" fill="#fdbb84" stroke="#444" stroke-width="0.5"/>
<rect x="124.5" y="193.3" width="21.8" height="5.4" fill="#fc8d59" stroke="#444" stroke-width="0.5"/>
<rect x="146.3" y="193.3" width="21.8" height="5.4" fill="#e34a33" stroke="#444" stroke-width="0.5"/>
<path d="M190,196L168.1,193.3V198.7Z" fill="#b30000" stroke="#b30000" stroke-width="0.4"/>
<text x="58.2" y="208.6" class="cl" text-anchor="middle">-8</text>
<text x="77.9" y="208.6" class="cl" text-anchor="middle">-1.6</text>
<text x="99.5" y="208.6" class="cl" text-anchor="middle">4.8</text>
<text x="122.6" y="208.6" class="cl" text-anchor="middle">11.2</text>
<text x="145.1" y="208.6" class="cl" text-anchor="middle">17.6</text>
<text x="168.8" y="208.6" class="cl" text-anchor="middle">24</text>
<path d="M198,196L219.3,193.3V198.7Z" fill="#f7f7f7" stroke="#888" stroke-width="0.6"/>
<rect x="219.3" y="193.3" width="21.4" height="5.4" fill="#f1eef6" stroke="#444" stroke-width="0.5"/>
<rect x="240.7" y="193.3" width="21.6" height="5.4" fill="#d0d1e6" stroke="#444" stroke-width="0.5"/>
<rect x="262.3" y="193.3" width="21.9" height="5.4" fill="#a6bddb" stroke="#444" stroke-width="0.5"/>
<rect x="284.2" y="193.3" width="21.2" height="5.4" fill="#74a9cf" stroke="#444" stroke-width="0.5"/>
<rect x="305.4" y="193.3" width="21.6" height="5.4" fill="#2b8cbe" stroke="#444" stroke-width="0.5"/>
<path d="M349,196L327,193.3V198.7Z" fill="#045a8d" stroke="#045a8d" stroke-width="0.4"/>
<text x="220.3" y="208.6" class="cl" text-anchor="middle">30</text>
<text x="240.1" y="208.6" class="cl" text-anchor="middle">40</text>
<text x="266.3" y="208.6" class="cl" text-anchor="middle">50</text>
<text x="289.1" y="208.6" class="cl" text-anchor="middle">60</text>
<text x="309.1" y="208.6" class="cl" text-anchor="middle">70</text>
<text x="328.9" y="208.6" class="cl" text-anchor="middle">80</text>
<path d="M360.1,196L380.9,193.3V198.7Z" fill="#f7f7f7" stroke="#888" stroke-width="0.6"/>
<rect x="380.9" y="193.3" width="21.4" height="5.4" fill="#fef0d9" stroke="#444" stroke-width="0.5"/>
<rect x="402.3" y="193.3" width="20.9" height="5.4" fill="#fdd49e" stroke="#444" stroke-width="0.5"/>
<rect x="423.2" y="193.3" width="21.4" height="5.4" fill="#fdbb84" stroke="#444" stroke-width="0.5"/>
<rect x="444.6" y="193.3" width="21.2" height="5.4" fill="#fc8d59" stroke="#444" stroke-width="0.5"/>
<rect x="465.8" y="193.3" width="21.2" height="5.4" fill="#e34a33" stroke="#444" stroke-width="0.5"/>
<path d="M508.6,196L487,193.3V198.7Z" fill="#b30000" stroke="#b30000" stroke-width="0.4"/>
<text x="379.7" y="208.6" class="cl" text-anchor="middle">-0.3</text>
<text x="401.3" y="208.6" class="cl" text-anchor="middle">-0.2</text>
<text x="422.2" y="208.6" class="cl" text-anchor="middle">-0.1</text>
<text x="446.5" y="208.6" class="cl" text-anchor="middle">0</text>
<text x="465.6" y="208.6" class="cl" text-anchor="middle">0.1</text>
<text x="492.2" y="208.6" class="cl" text-anchor="middle">0.2</text>
<path d="M38.6,385.1L60.3,382.5V387.6Z" fill="#f7f7f7" stroke="#888" stroke-width="0.6"/>
<rect x="60.3" y="382.5" width="21.6" height="5.1" fill="#fef0d9" stroke="#444" stroke-width="0.5"/>
<rect x="81.9" y="382.5" width="21.6" height="5.1" fill="#fdd49e" stroke="#444" stroke-width="0.5"/>
<rect x="103.5" y="382.5" width="21.6" height="5.1" fill="#fdbb84" stroke="#444" stroke-width="0.5"/>
<rect x="125.1" y="382.5" width="21.7" height="5.1" fill="#fc8d59" stroke="#444" stroke-width="0.5"/>
<rect x="146.8" y="382.5" width="21" height="5.1" fill="#e34a33" stroke="#444" stroke-width="0.5"/>
<path d="M190,385.1L167.8,382.5V387.6Z" fill="#b30000" stroke="#b30000" stroke-width="0.4"/>
<text x="58.4" y="397.6" class="cl" text-anchor="middle">10</text>
<text x="80.8" y="397.6" class="cl" text-anchor="middle">14</text>
<text x="102.4" y="397.6" class="cl" text-anchor="middle">18</text>
<text x="124.6" y="397.6" class="cl" text-anchor="middle">22</text>
<text x="146.8" y="397.6" class="cl" text-anchor="middle">26</text>
<text x="168.4" y="397.6" class="cl" text-anchor="middle">30</text>
<path d="M199.5,385.1L221.6,382.5V387.6Z" fill="#f7f7f7" stroke="#888" stroke-width="0.6"/>
<rect x="221.6" y="382.5" width="21.6" height="5.1" fill="#f1eef6" stroke="#444" stroke-width="0.5"/>
<rect x="243.2" y="382.5" width="21.1" height="5.1" fill="#d0d1e6" stroke="#444" stroke-width="0.5"/>
<rect x="264.3" y="382.5" width="21.1" height="5.1" fill="#a6bddb" stroke="#444" stroke-width="0.5"/>
<rect x="285.4" y="382.5" width="21.4" height="5.1" fill="#74a9cf" stroke="#444" stroke-width="0.5"/>
<rect x="306.8" y="382.5" width="21" height="5.1" fill="#2b8cbe" stroke="#444" stroke-width="0.5"/>
<path d="M349.5,385.1L327.8,382.5V387.6Z" fill="#045a8d" stroke="#045a8d" stroke-width="0.4"/>
<text x="219.7" y="397.6" class="cl" text-anchor="middle">100</text>
<text x="241.4" y="397.6" class="cl" text-anchor="middle">130</text>
<text x="268.4" y="397.6" class="cl" text-anchor="middle">160</text>
<text x="288.6" y="397.6" class="cl" text-anchor="middle">190</text>
<text x="308.9" y="397.6" class="cl" text-anchor="middle">220</text>
<text x="330" y="397.6" class="cl" text-anchor="middle">250</text>
<path d="M364.9,385.1L385.7,382.5V387.6Z" fill="#f7f7f7" stroke="#888" stroke-width="0.6"/>
<rect x="385.7" y="382.5" width="20.5" height="5.1" fill="#fef0d9" stroke="#444" stroke-width="0.5"/>
<rect x="406.2" y="382.5" width="20.8" height="5.1" fill="#fdd49e" stroke="#444" stroke-width="0.5"/>
<rect x="427" y="382.5" width="20.3" height="5.1" fill="#fdbb84" stroke="#444" stroke-width="0.5"/>
<rect x="447.3" y="382.5" width="20.8" height="5.1" fill="#fc8d59" stroke="#444" stroke-width="0.5"/>
<rect x="468.1" y="382.5" width="20.5" height="5.1" fill="#e34a33" stroke="#444" stroke-width="0.5"/>
<path d="M509.5,385.1L488.6,382.5V387.6Z" fill="#b30000" stroke="#b30000" stroke-width="0.4"/>
<text x="385.1" y="397.6" class="cl" text-anchor="middle">-0.3</text>
<text x="406.2" y="397.6" class="cl" text-anchor="middle">-0.2</text>
<text x="429.2" y="397.6" class="cl" text-anchor="middle">-0.1</text>
<text x="447.3" y="397.6" class="cl" text-anchor="middle">0</text>
<text x="468.9" y="397.6" class="cl" text-anchor="middle">0.1</text>
<text x="491.9" y="397.6" class="cl" text-anchor="middle">0.2</text>
<text x="546.1" y="81.6" class="lt">Species</text>
<rect x="547" y="93.5" width="4.2" height="4.2" fill="#fff" stroke="#0a0a0a" stroke-width="1.2"/>
<text x="558.2" y="99.7" class="li">P. yunnanensis</text>
<circle cx="549.1" cy="118.7" r="2.85" fill="#fff" stroke="#0a0a0a" stroke-width="1.0"/>
<text x="558.2" y="123.4" class="li">P. kesiya</text>
<text x="545" y="165.3" class="lt">Coefficients</text>
<rect x="553.7" y="174.8" width="9.5" height="111.7" fill="url(#cg)"/>
<path d="M553.7,203.6h1.9M563.2,203.6h-1.9M553.7,231.6h1.9M563.2,231.6h-1.9M553.7,259.3h1.9M563.2,259.3h-1.9" stroke="#fff" stroke-width="0.6" opacity="0.9"/>
<text x="567.3" y="179.7" class="ll">0.6</text>
<text x="567.3" y="207.9" class="ll">0.3</text>
<text x="567.3" y="235.4" class="ll">0.0</text>
<text x="567.3" y="263.5" class="ll">-0.3</text>
<text x="567.3" y="289" class="ll">-0.6</text>
</svg>
</body></html>
